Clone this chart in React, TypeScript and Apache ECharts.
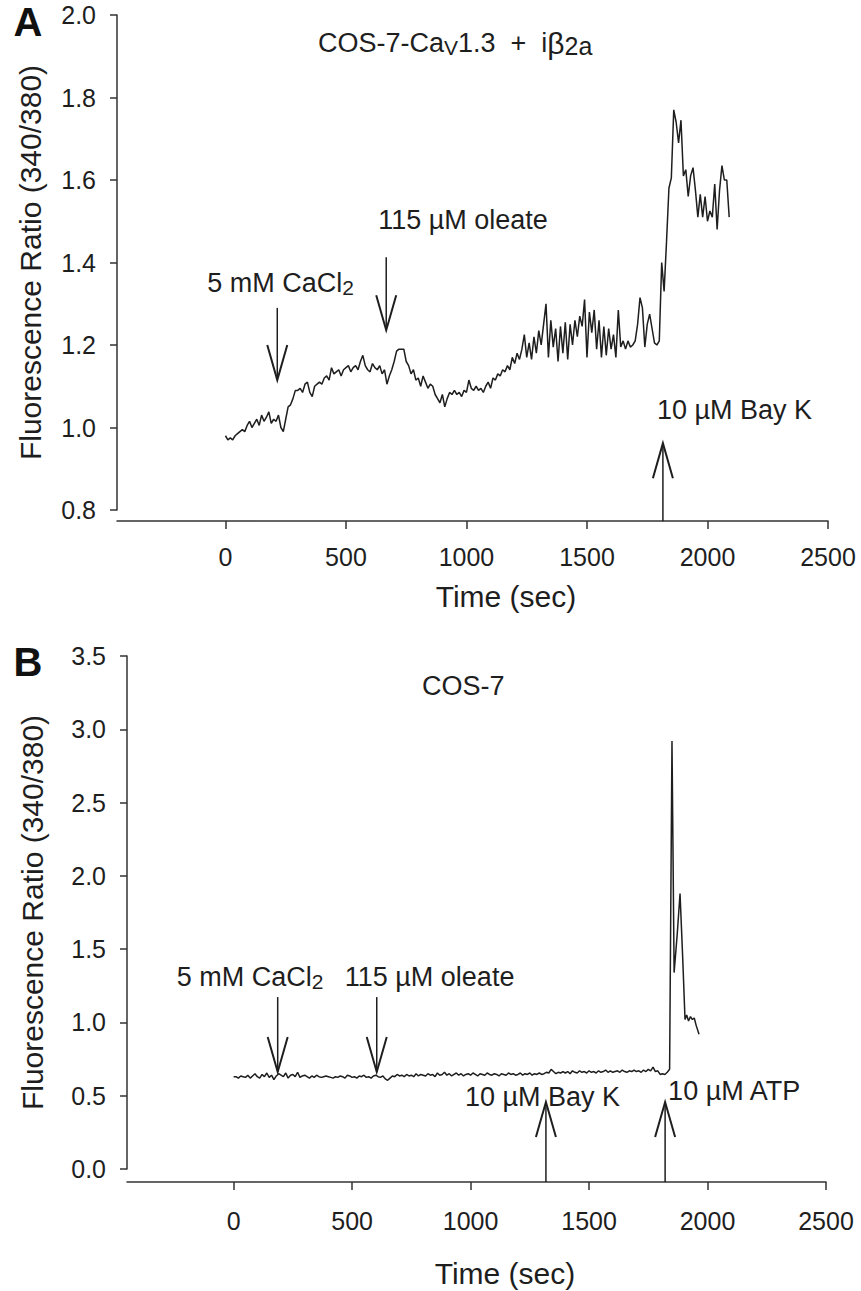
import React, { useEffect, useRef } from 'react';
import * as echarts from 'echarts';

const FONT = '"Liberation Sans", Arial, Helvetica, sans-serif';
const INK = '#1e1e1e';
const AXIS = '#333333';

// ---------- DATA ----------
// Panel A: COS-7-CaV1.3 + iβ2a, sampled every 10 s from t = 0
const sampleStepA = 10;
const ratioA = [
  0.98, 0.97, 0.975, 0.97, 0.98, 0.985, 0.99, 0.995, 0.99, 1.005,
  1.015, 1.0, 1.01, 1.02, 1.005, 1.03, 1.015, 1.025, 1.038, 1.01,
  1.02, 1.015, 1.03, 1.0, 0.99, 1.02, 1.05, 1.055, 1.07, 1.09,
  1.09, 1.095, 1.085, 1.105, 1.11, 1.085, 1.075, 1.1, 1.105, 1.11,
  1.105, 1.12, 1.125, 1.115, 1.145, 1.13, 1.135, 1.14, 1.125, 1.14,
  1.145, 1.15, 1.135, 1.145, 1.15, 1.14, 1.16, 1.175, 1.15, 1.14,
  1.135, 1.155, 1.145, 1.14, 1.15, 1.13, 1.14, 1.105, 1.125, 1.14,
  1.16, 1.185, 1.19, 1.19, 1.19, 1.16, 1.15, 1.13, 1.14, 1.115,
  1.12, 1.1, 1.125, 1.11, 1.095, 1.105, 1.1, 1.08, 1.07, 1.06,
  1.08, 1.05, 1.07, 1.085, 1.08, 1.09, 1.08, 1.085, 1.075, 1.09,
  1.085, 1.115, 1.095, 1.09, 1.1, 1.09, 1.095, 1.085, 1.1, 1.11,
  1.095, 1.12, 1.115, 1.13, 1.125, 1.14, 1.135, 1.15, 1.14, 1.17,
  1.155, 1.18, 1.165, 1.19, 1.225, 1.17, 1.205, 1.165, 1.22, 1.18,
  1.235, 1.2, 1.25, 1.3, 1.17, 1.26, 1.195, 1.24, 1.16, 1.245,
  1.18, 1.255, 1.165, 1.25, 1.2, 1.26, 1.22, 1.27, 1.245, 1.31,
  1.17, 1.28, 1.23, 1.285, 1.19, 1.26, 1.17, 1.245, 1.175, 1.24,
  1.19, 1.225, 1.17, 1.285, 1.195, 1.21, 1.19, 1.21, 1.195, 1.2,
  1.21, 1.25, 1.315, 1.29, 1.195, 1.25, 1.275, 1.24, 1.205, 1.2,
  1.21, 1.4, 1.33, 1.45, 1.58, 1.605, 1.77, 1.74, 1.69, 1.745,
  1.61, 1.625, 1.56, 1.61, 1.63, 1.575, 1.51, 1.565, 1.51, 1.56,
  1.5, 1.525, 1.51, 1.59, 1.48, 1.575, 1.635, 1.6, 1.6, 1.51,
];

// Panel B: COS-7, baseline sampled every 10 s from t = 0 to 1840 s
const sampleStepB = 10;
const ratioBBaseline = [
  0.63, 0.63, 0.62, 0.635, 0.63, 0.625, 0.64, 0.62, 0.635, 0.65,
  0.63, 0.62, 0.645, 0.63, 0.655, 0.625, 0.64, 0.61, 0.635, 0.65,
  0.64, 0.63, 0.655, 0.62, 0.64, 0.645, 0.63, 0.66, 0.625, 0.635,
  0.64, 0.63, 0.62, 0.635, 0.625, 0.64, 0.63, 0.625, 0.63, 0.635,
  0.63, 0.625, 0.62, 0.63, 0.625, 0.635, 0.63, 0.62, 0.64, 0.635,
  0.625, 0.63, 0.62, 0.635, 0.63, 0.64, 0.625, 0.63, 0.62, 0.635,
  0.64, 0.63, 0.625, 0.635, 0.615, 0.605, 0.62, 0.635, 0.63, 0.645,
  0.635, 0.64, 0.63, 0.645, 0.635, 0.64, 0.63, 0.65, 0.635, 0.645,
  0.64, 0.635, 0.65, 0.64, 0.645, 0.63, 0.655, 0.64, 0.645, 0.66,
  0.64, 0.65, 0.635, 0.645, 0.655, 0.64, 0.65, 0.635, 0.645, 0.65,
  0.64, 0.655, 0.645, 0.635, 0.65, 0.645, 0.64, 0.655, 0.645, 0.64,
  0.65, 0.645, 0.635, 0.65, 0.645, 0.64, 0.655, 0.645, 0.65, 0.64,
  0.645, 0.655, 0.64, 0.65, 0.645, 0.655, 0.64, 0.65, 0.645, 0.655,
  0.645, 0.65, 0.66, 0.655, 0.68, 0.665, 0.65, 0.66, 0.655, 0.665,
  0.655, 0.665, 0.65, 0.67, 0.66, 0.655, 0.67, 0.66, 0.665, 0.655,
  0.67, 0.66, 0.665, 0.655, 0.67, 0.66, 0.665, 0.675, 0.66, 0.67,
  0.66, 0.665, 0.67, 0.66, 0.675, 0.665, 0.66, 0.67, 0.665, 0.675,
  0.665, 0.67, 0.66, 0.675, 0.665, 0.68, 0.67, 0.695, 0.665, 0.67,
  0.645, 0.65, 0.645, 0.66, 0.68,
];
// Panel B: ATP response after the baseline
const spikeTimeB = [1850, 1859, 1872, 1884, 1895, 1905, 1912, 1920, 1928, 1936, 1944, 1952, 1964];
const spikeRatioB = [2.92, 1.34, 1.6, 1.88, 1.45, 1.02, 1.05, 1.01, 1.04, 1.02, 1.03, 0.98, 0.92];

// Tick labels
const xTickValues = [0, 500, 1000, 1500, 2000, 2500];
const xRange = [-450, 2500];
const yRangeA = [0.8, 2.0];
const yStepA = 0.2;
const yRangeB = [0, 3.5];
const yStepB = 0.5;

// Additions (arrows): time, tail value, tip value, label
const additionsA = [
  { time: 215, from: 1.29, to: 1.115, label: '5 mM CaCl{s|2}' },
  { time: 667, from: 1.413, to: 1.236, label: '115 µM oleate' },
  { time: 1815, from: 0.773, to: 0.962, label: '10 µM Bay K' },
];
const additionsB = [
  { time: 186, from: 1.173, to: 0.662, label: '5 mM CaCl{s|2}' },
  { time: 604, from: 1.173, to: 0.662, label: '115 µM oleate' },
  { time: 1318, from: -0.089, to: 0.457, label: '10 µM Bay K' },
  { time: 1821, from: -0.089, to: 0.457, label: '10 µM ATP' },
];

// label placement (pixel offsets from the arrow's upper end) — layout, not data
const labelOffsetsA = [[-70, -25], [-8, -37], [-6, -33]];
const labelOffsetsB = [[-101, -20], [-32, -20], [-81, -5], [3, -11]];

const RICH: any = {
  s: { fontSize: 21, fontFamily: FONT, fill: INK, color: INK, padding: [12, 0, 0, 0], lineHeight: 21, verticalAlign: 'bottom' },
  b: { fontSize: 30, fontFamily: FONT, fill: INK, color: INK, lineHeight: 30 },
  t: { fontSize: 25, fontFamily: FONT, fill: INK, color: INK, padding: [14, 0, 0, 0], lineHeight: 25, verticalAlign: 'bottom' },
};

function arrowSeries(idx: number, adds: any[], offsets: number[][]) {
  return {
    type: 'custom',
    xAxisIndex: idx,
    yAxisIndex: idx,
    clip: false,
    silent: true,
    z: 5,
    data: adds.map((a) => [a.time, a.from, a.to]),
    renderItem: (params: any, api: any) => {
      const i = params.dataIndex;
      const t = api.value(0);
      const p1 = api.coord([t, api.value(1)]);
      const p2 = api.coord([t, api.value(2)]);
      const dir = p2[1] > p1[1] ? 1 : -1;
      const headLen = 35;
      const headHalf = 10;
      const topY = Math.min(p1[1], p2[1]);
      const off = offsets[i];
      return {
        type: 'group',
        children: [
          {
            type: 'line',
            shape: { x1: p1[0], y1: p1[1], x2: p2[0], y2: p2[1] },
            style: { stroke: INK, lineWidth: 1.5 },
          },
          {
            type: 'polyline',
            shape: {
              points: [
                [p2[0] - headHalf, p2[1] - dir * headLen],
                [p2[0], p2[1]],
                [p2[0] + headHalf, p2[1] - dir * headLen],
              ],
            },
            style: { stroke: INK, lineWidth: 2, fill: 'none' },
          },
          {
            type: 'text',
            x: p1[0] + off[0],
            y: topY + off[1],
            style: {
              text: adds[i].label,
              rich: RICH,
              fontSize: 27,
              fontFamily: FONT,
              fill: INK,
              align: 'left',
              verticalAlign: 'middle',
              lineHeight: 30,
            },
          },
        ],
      };
    },
  };
}

function xAxisDef(gridIndex: number, offset: number, margin: number) {
  return {
    type: 'value',
    gridIndex,
    min: xRange[0],
    max: xRange[1],
    offset,
    axisLine: { show: true, onZero: false, lineStyle: { color: AXIS, width: 1.5 } },
    axisTick: { show: true, length: 8, customValues: xTickValues, lineStyle: { color: AXIS, width: 1.5 } },
    axisLabel: {
      customValues: xTickValues,
      margin,
      fontSize: 25,
      fontFamily: FONT,
      color: INK,
      formatter: (v: number) => String(v),
    },
    splitLine: { show: false },
  };
}

function yAxisDef(gridIndex: number, range: number[], step: number, nameGap: number) {
  return {
    type: 'value',
    gridIndex,
    min: range[0],
    max: range[1],
    interval: step,
    name: 'Fluorescence Ratio (340/380)',
    nameLocation: 'middle',
    nameRotate: 90,
    nameGap,
    nameTextStyle: { fontSize: 30, fontFamily: FONT, color: INK },
    axisLine: { show: true, onZero: false, lineStyle: { color: AXIS, width: 1.5 } },
    axisTick: { show: true, length: 7, lineStyle: { color: AXIS, width: 1.5 } },
    axisLabel: {
      margin: 21,
      fontSize: 25,
      fontFamily: FONT,
      color: INK,
      formatter: (v: number) => v.toFixed(1),
    },
    splitLine: { show: false },
  };
}

export default function App() {
  const ref = useRef<HTMLDivElement>(null);

  useEffect(() => {
    document.body.style.margin = '0';
    if (!ref.current) return;
    const chart = echarts.init(ref.current, undefined, { renderer: 'svg' });

    const dataA = ratioA.map((v, i) => [i * sampleStepA, v]);
    const dataB = ratioBBaseline
      .map((v, i) => [i * sampleStepB, v])
      .concat(spikeTimeB.map((t, i) => [t, spikeRatioB[i]]));

    chart.setOption({
      animation: false,
      backgroundColor: '#ffffff',
      grid: [
        { left: 117, top: 15, width: 711, height: 495, containLabel: false },
        { left: 127, top: 656, width: 699, height: 513, containLabel: false },
      ],
      xAxis: [xAxisDef(0, 11, 23), xAxisDef(1, 13, 26)],
      yAxis: [yAxisDef(0, yRangeA, yStepA, 72), yAxisDef(1, yRangeB, yStepB, 80)],
      series: [
        {
          type: 'line',
          xAxisIndex: 0,
          yAxisIndex: 0,
          data: dataA,
          showSymbol: false,
          symbol: 'none',
          lineStyle: { color: INK, width: 1.5 },
          silent: true,
        },
        {
          type: 'line',
          xAxisIndex: 1,
          yAxisIndex: 1,
          data: dataB,
          showSymbol: false,
          symbol: 'none',
          lineStyle: { color: INK, width: 1.5 },
          silent: true,
        },
        arrowSeries(0, additionsA, labelOffsetsA),
        arrowSeries(1, additionsB, labelOffsetsB),
      ],
      graphic: [
        {
          type: 'text',
          x: 28,
          y: 22,
          style: { text: 'A', fontSize: 40, fontWeight: 'bold', fontFamily: FONT, fill: '#111', align: 'center', verticalAlign: 'middle' },
        },
        {
          type: 'text',
          x: 28,
          y: 662,
          style: { text: 'B', fontSize: 40, fontWeight: 'bold', fontFamily: FONT, fill: '#111', align: 'center', verticalAlign: 'middle' },
        },
        {
          type: 'text',
          x: 318,
          y: 43,
          style: {
            text: 'COS-7-Ca{s|V}1.3  +  i{b|β}{t|2a}',
            rich: RICH,
            fontSize: 27,
            fontFamily: FONT,
            fill: INK,
            align: 'left',
            verticalAlign: 'middle',
            lineHeight: 30,
          },
        },
        {
          type: 'text',
          x: 422,
          y: 686,
          style: { text: 'COS-7', fontSize: 27, fontFamily: FONT, fill: INK, align: 'left', verticalAlign: 'middle' },
        },
        {
          type: 'text',
          x: 506,
          y: 596,
          style: { text: 'Time (sec)', fontSize: 30, fontFamily: FONT, fill: INK, align: 'center', verticalAlign: 'middle' },
        },
        {
          type: 'text',
          x: 505,
          y: 1273,
          style: { text: 'Time (sec)', fontSize: 30, fontFamily: FONT, fill: INK, align: 'center', verticalAlign: 'middle' },
        },
      ],
    });

    return () => chart.dispose();
  }, []);

  return <div ref={ref} style={{ width: 861, height: 1291 }} />;
}
